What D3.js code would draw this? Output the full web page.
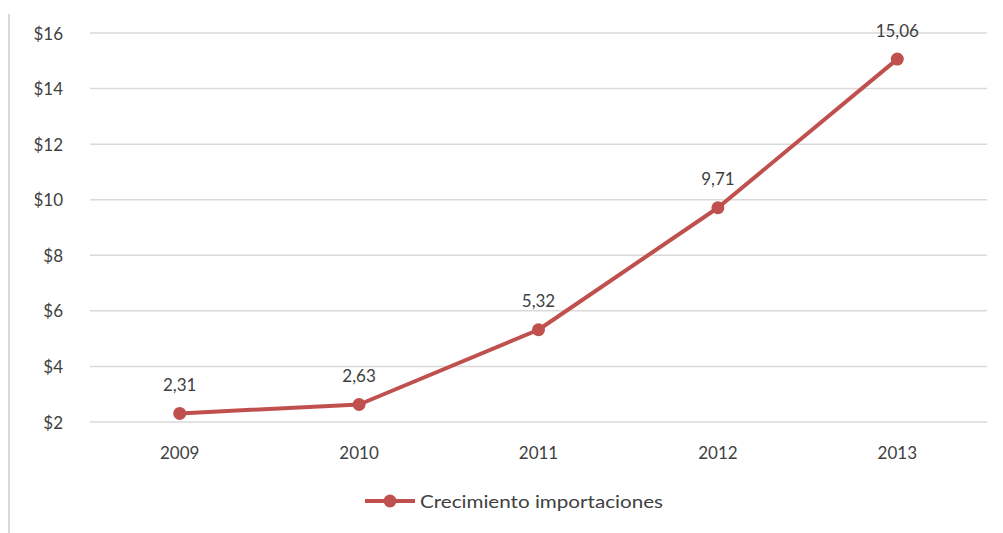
<!DOCTYPE html>
<html>
<head>
<meta charset="utf-8">
<script src="https://cdn.jsdelivr.net/npm/d3@7"></script>
<style>
  body { margin: 0; background: #fff; }
  text { font-family: Lato, "Open Sans", sans-serif; fill: #404040; }
</style>
</head>
<body>
<div id="chart"></div>
<script>
const years = ["2009", "2010", "2011", "2012", "2013"];
const imports = [2.31, 2.63, 5.32, 9.71, 15.06];
const yTicks = [2, 4, 6, 8, 10, 12, 14, 16];
const seriesName = "Crecimiento importaciones";

const width = 1003, height = 533;
const lineColor = "#c0504d";

const svg = d3.select("#chart").append("svg")
    .attr("width", width)
    .attr("height", height);

// frame line on the left
svg.append("line")
    .attr("x1", 9).attr("x2", 9)
    .attr("y1", 14).attr("y2", height)
    .attr("stroke", "#d9d9d9")
    .attr("stroke-width", 2);

const x = d3.scaleBand().domain(years).range([90, 987]);
const y = d3.scaleLinear().domain([2, 16]).range([422, 33]);

// gridlines
svg.append("g")
    .selectAll("line")
    .data(yTicks)
    .enter().append("line")
    .attr("x1", 90).attr("x2", 987)
    .attr("y1", d => y(d)).attr("y2", d => y(d))
    .attr("stroke", "#d9d9d9")
    .attr("stroke-width", 1.5);

// y labels
svg.append("g")
    .selectAll("text")
    .data(yTicks)
    .enter().append("text")
    .attr("x", 63)
    .attr("y", d => y(d))
    .attr("text-anchor", "end")
    .attr("dominant-baseline", "central")
    .style("font-size", "17px")
    .text(d => "$" + d);

// x labels
svg.append("g")
    .selectAll("text")
    .data(years)
    .enter().append("text")
    .attr("x", d => x(d) + x.bandwidth() / 2)
    .attr("y", 452)
    .attr("text-anchor", "middle")
    .attr("dominant-baseline", "central")
    .style("font-size", "17px")
    .text(d => d);

const pts = years.map((yr, i) => ({ year: yr, value: imports[i] }));
const cx = d => x(d.year) + x.bandwidth() / 2;

svg.append("path")
    .datum(pts)
    .attr("fill", "none")
    .attr("stroke", lineColor)
    .attr("stroke-width", 4)
    .attr("stroke-linejoin", "round")
    .attr("d", d3.line().x(cx).y(d => y(d.value)));

svg.append("g")
    .selectAll("circle")
    .data(pts)
    .enter().append("circle")
    .attr("cx", cx)
    .attr("cy", d => y(d.value))
    .attr("r", 6.5)
    .attr("fill", lineColor);

svg.append("g")
    .selectAll("text")
    .data(pts)
    .enter().append("text")
    .attr("x", cx)
    .attr("y", d => y(d.value) - 29)
    .attr("text-anchor", "middle")
    .attr("dominant-baseline", "central")
    .style("font-size", "17px")
    .text(d => d3.format(".2f")(d.value).replace(".", ","));

// legend
const leg = svg.append("g");
leg.append("line")
    .attr("x1", 365).attr("x2", 415)
    .attr("y1", 501).attr("y2", 501)
    .attr("stroke", lineColor)
    .attr("stroke-width", 4);
leg.append("circle")
    .attr("cx", 390).attr("cy", 501)
    .attr("r", 6.5)
    .attr("fill", lineColor);
leg.append("text")
    .attr("x", 420)
    .attr("y", 501)
    .attr("dominant-baseline", "central")
    .style("font-size", "18px")
    .attr("textLength", 243)
    .attr("lengthAdjust", "spacingAndGlyphs")
    .text(seriesName);
</script>
</body>
</html>
